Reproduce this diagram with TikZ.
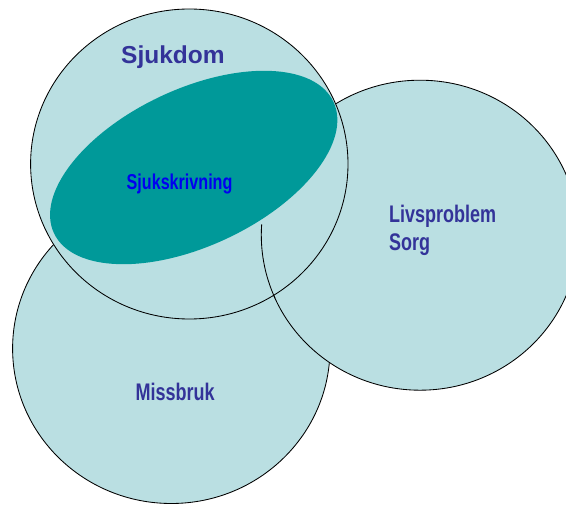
\documentclass[tikz,border=0pt]{standalone}
\usepackage{fontspec}
\setmainfont{Liberation Sans}
\newfontfamily\narrowsans[FakeStretch=0.75]{Liberation Sans}
\definecolor{setfill}{HTML}{BADFE2}
\definecolor{sicklist}{HTML}{009999}
\definecolor{labelblue}{HTML}{333399}
\definecolor{brightblue}{HTML}{0000F0}
\tikzset{
  setdisc/.style={fill=setfill, draw=black, line width=0.85pt},
  setrim/.style={draw=black, line width=0.85pt},
  narrowlabel/.style={inner sep=0pt, anchor=base west, text=labelblue,
    font=\narrowsans\bfseries\fontsize{24}{28}\selectfont},
}
\begin{document}
\begin{tikzpicture}[x=1pt,y=1pt]
  \useasboundingbox (0,0) rectangle (566,-505);
  \clip (0,0) rectangle (566,-505);

  % centres of the three sets
  \coordinate (missbruk) at (171.3,-348.5);
  \coordinate (livs) at (420,-235.2);
  \coordinate (sjuk) at (189.3,-164);

  % the three sets, lowest first
  \path[setdisc] (missbruk) ellipse[x radius=158.7, y radius=155];
  \path[setdisc] (livs) ellipse[x radius=158.7, y radius=155];
  \path[setdisc] (sjuk) ellipse[x radius=158.7, y radius=155];

  % rim of the right set where it runs inside the top one
  \draw[setrim] (livs) ++(176:158.7 and 155)
    arc[start angle=176, end angle=204, x radius=158.7, y radius=155];

  % sick-leave subset
  \coordinate (sick) at (193.7,-167.5);
  \fill[sicklist, rotate around={25.2:(sick)}] (sick)
    ellipse[x radius=154.4, y radius=78.4];

  % labels
  \node[inner sep=0pt, anchor=base west, text=labelblue,
    font=\bfseries\fontsize{24.5}{28}\selectfont] (tsjukdom) at (121,-64) {Sjukdom};
  \node[narrowlabel, text=brightblue, font=\narrowsans\bfseries\fontsize{21.5}{24}\selectfont]
    (tsick) at (126.5,-189.3) {Sjukskrivning};
  \node[narrowlabel] (tlivs) at (389,-222.3) {Livsproblem};
  \node[narrowlabel] (tsorg) at (389,-250.7) {Sorg};
  \node[narrowlabel] (tmiss) at (135.5,-400.7) {Missbruk};
\end{tikzpicture}
\end{document}
